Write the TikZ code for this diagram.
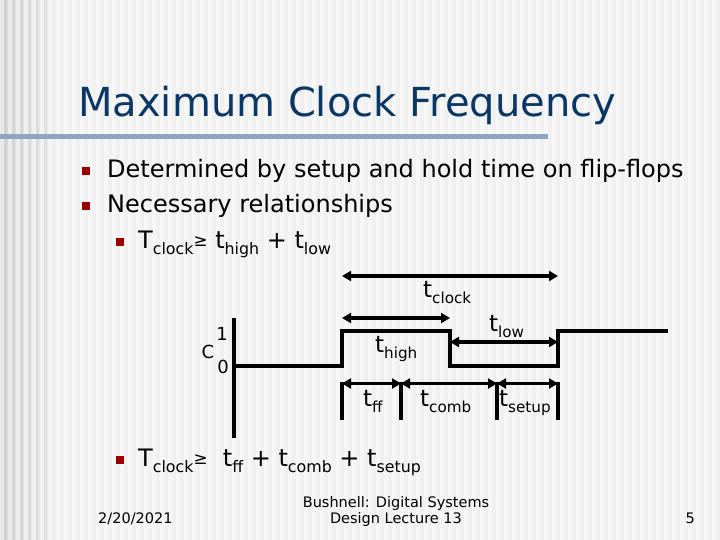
\documentclass[tikz,border=0pt]{standalone}
\usepackage{fontspec}
\setmainfont{DejaVu Sans}
\usetikzlibrary{arrows.meta}
\definecolor{titleblue}{HTML}{0B3766}
\definecolor{bulletred}{HTML}{990000}
\definecolor{rulecol}{HTML}{8FA4BE}
\definecolor{bgbase}{HTML}{F0F0F0}
\definecolor{bgdark}{HTML}{D8D8D8}
\newcommand{\sbs}[1]{\raisebox{-0.28em}{\scalebox{0.66}{#1}}}
\newcommand{\gesym}{\raisebox{0.08em}{\scalebox{0.7}{≥}}}
\tikzset{
  sig/.style={line width=3.5pt, line cap=rect, line join=miter},
  dimarrow/.style={line width=3.2pt, {Triangle[length=9pt,width=10pt]}-{Triangle[length=9pt,width=10pt]}},
  tick/.style={line width=3.5pt},
  bul/.style={fill=bulletred, minimum size=8pt, inner sep=0pt, draw=none},
  bodytxt/.style={anchor=base west, inner sep=0pt, font=\fontsize{24}{28}\selectfont},
  subtxt/.style={anchor=base west, inner sep=0pt, font=\fontsize{24}{28}\selectfont},
  lbl/.style={anchor=base west, inner sep=0pt, font=\fontsize{23}{27}\selectfont},
  axlbl/.style={anchor=base, inner sep=0pt, font=\fontsize{18}{20}\selectfont},
  foot/.style={inner sep=0pt, font=\fontsize{14.5}{16}\selectfont},
}
\begin{document}
\begin{tikzpicture}[x=1pt,y=-1pt]
\useasboundingbox (0,0) rectangle (720,540);
% background
\fill[bgbase] (0,0) rectangle (720,540);
\shade[left color=bgdark, right color=bgbase] (0,0) rectangle (60,540);
\foreach \x in {0,8,...,712} \fill[white, opacity=0.45] (\x,0) rectangle (\x+3.5,540);
\foreach \x in {4,12,...,44} \fill[black, opacity=0.04] (\x,0) rectangle (\x+3,540);
% title
\node[anchor=base west, inner sep=0pt, text=titleblue, font=\fontsize{40}{46}\selectfont] (title) at (78,117) {Maximum Clock Frequency};
\fill[rulecol] (0,134.5) rectangle (548,139.5);
% bullets
\node[bul] (b1) at (86,171) {};
\node[bodytxt] (t1) at (107,178) {Determined by setup and hold time on flip-flops};
\node[bul] (b2) at (86,206) {};
\node[bodytxt] (t2) at (107,213) {Necessary relationships};
\node[bul, minimum size=7.5pt] (b3) at (120,242) {};
\node[subtxt] (t3) at (138,248) {T\sbs{clock}\gesym\ t\sbs{high} + t\sbs{low}};
\node[bul, minimum size=7.5pt] (b4) at (120,460) {};
\node[subtxt] (t4) at (138,466) {T\sbs{clock}\gesym\ \ t\sbs{ff} + t\sbs{comb} + t\sbs{setup}};
% waveform coordinates
\coordinate (ax0) at (234,318);
\coordinate (ax1) at (234,438);
\coordinate (w0) at (234,366);
\coordinate (w1) at (342,366);
\coordinate (w2) at (342,331);
\coordinate (w3) at (450,331);
\coordinate (w4) at (450,366);
\coordinate (w5) at (558,366);
\coordinate (w6) at (558,331);
\coordinate (w7) at (666,331);
\draw[tick] (ax0) -- (ax1);
\draw[sig] (w0) -- (w1) -- (w2) -- (w3) -- (w4) -- (w5) -- (w6) -- (w7);
\node[axlbl] (one) at (222,340) {1};
\node[axlbl] (cee) at (208,358) {C};
\node[axlbl] (zero) at (223,373) {0};
% dimension arrows
\coordinate (ck0) at (342,276);
\coordinate (ck1) at (558,276);
\coordinate (hi0) at (342,318);
\coordinate (hi1) at (450,318);
\coordinate (lo0) at (450,342);
\coordinate (lo1) at (558,342);
\draw[dimarrow] (ck0) -- (ck1);
\draw[dimarrow] (hi0) -- (hi1);
\draw[dimarrow] (lo0) -- (lo1);
\node[lbl] (lclock) at (423,297) {t\sbs{clock}};
\node[lbl] (lhigh) at (375,352) {t\sbs{high}};
\node[lbl] (llow) at (489,331) {t\sbs{low}};
% bottom arrows
\coordinate (v1a) at (342,382); \coordinate (v1b) at (342,420);
\coordinate (v2a) at (401,382); \coordinate (v2b) at (401,420);
\coordinate (v3a) at (497,382); \coordinate (v3b) at (497,420);
\coordinate (v4a) at (558,382); \coordinate (v4b) at (558,420);
\coordinate (a1) at (342,383.5); \coordinate (a2) at (401,383.5);
\coordinate (a3) at (497,383.5); \coordinate (a4) at (558,383.5);
\draw[tick] (v1a) -- (v1b);
\draw[tick] (v2a) -- (v2b);
\draw[tick] (v3a) -- (v3b);
\draw[tick] (v4a) -- (v4b);
\draw[dimarrow] (a1) -- (a2);
\draw[dimarrow] (a2) -- (a3);
\draw[dimarrow] (a3) -- (a4);
\node[lbl] (lff) at (363,406) {t\sbs{ff}};
\node[lbl] (lcomb) at (420,406) {t\sbs{comb}};
\node[lbl] (lsetup) at (499,406) {t\sbs{setup}};
% footer
\node[foot, anchor=base west] (date) at (98,523) {2/20/2021};
\node[foot, anchor=base, align=center] (fc1) at (396,507) {Bushnell: Digital Systems};
\node[foot, anchor=base, align=center] (fc2) at (396,523) {Design Lecture 13};
\node[foot, anchor=base east] (page) at (695,523) {5};
\end{tikzpicture}
\end{document}
